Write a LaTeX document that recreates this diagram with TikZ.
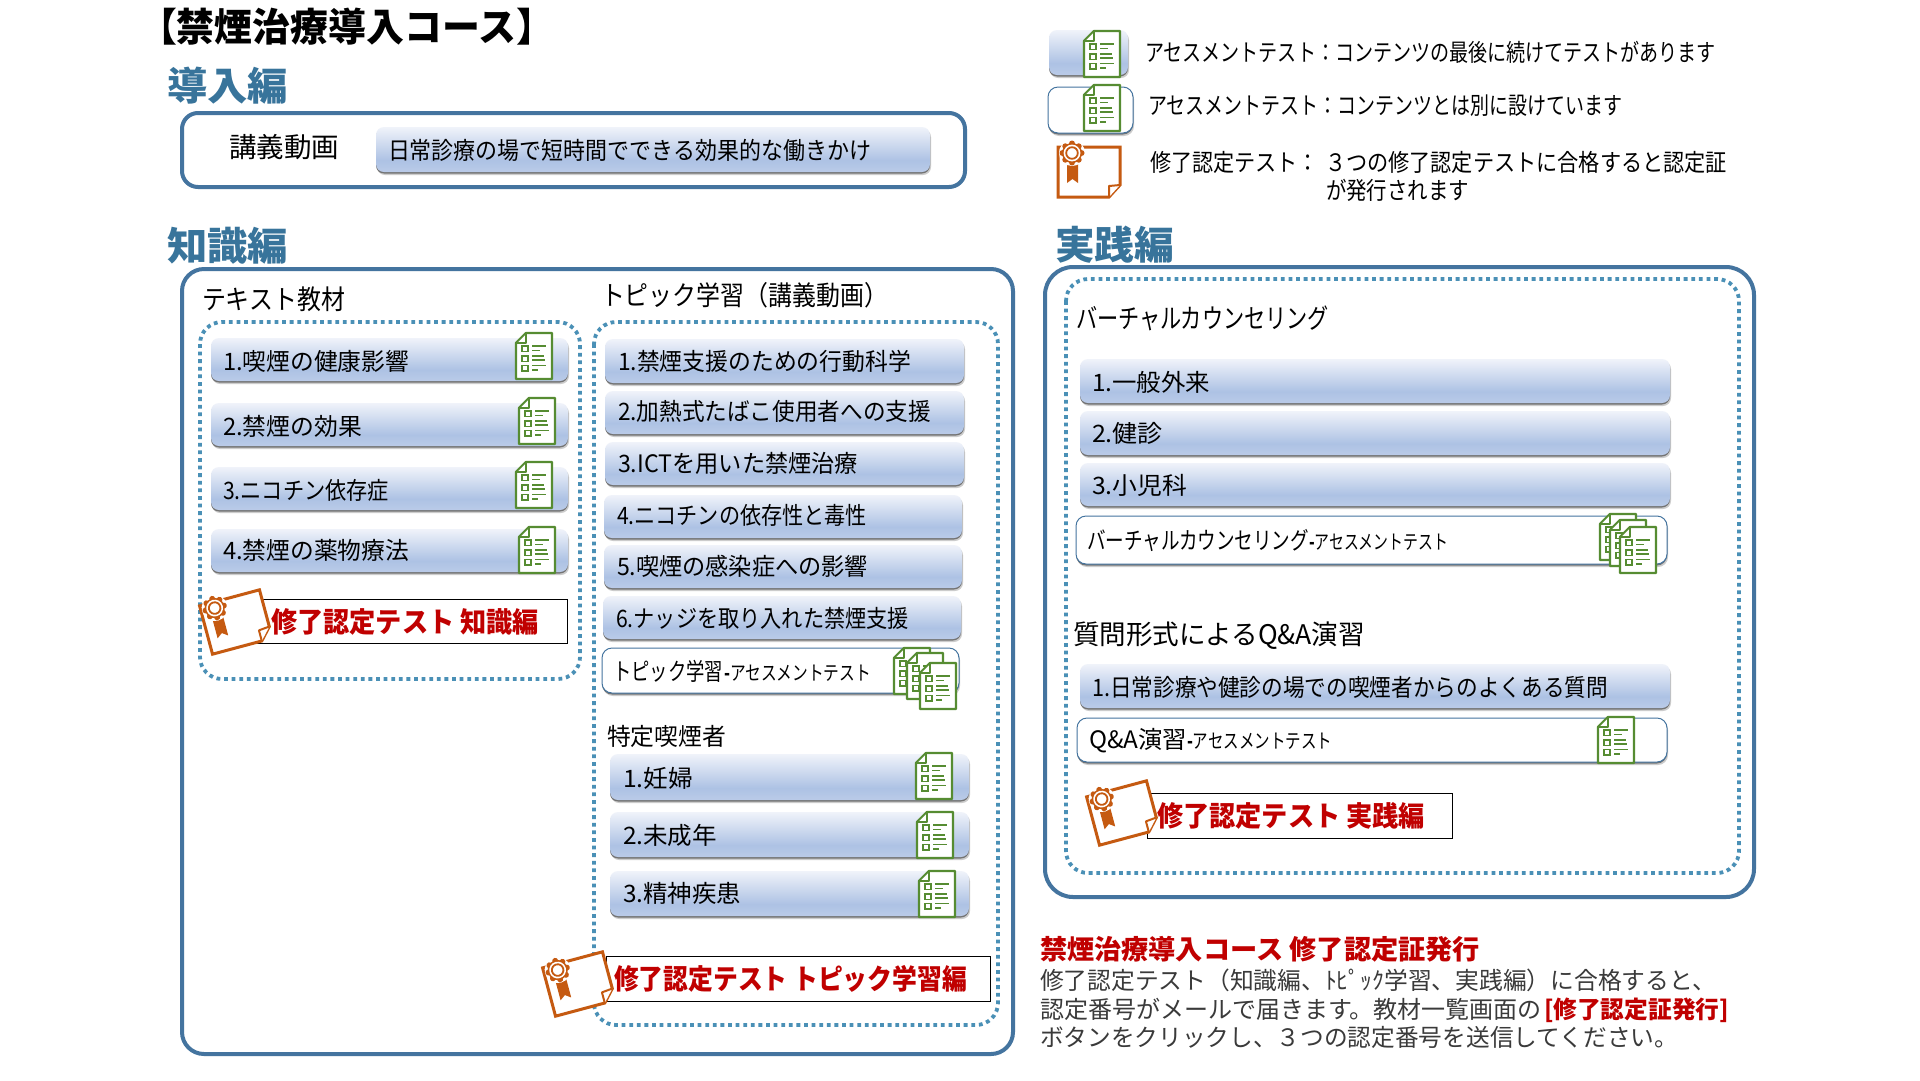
\documentclass[tikz,border=0pt]{standalone}
\usepackage{fontspec}
\usepackage{graphicx}
\setmainfont{Noto Sans CJK JP}
\definecolor{outerblue}{HTML}{44749F}
\definecolor{headblue}{HTML}{38749B}
\definecolor{dotblue}{HTML}{4A90B6}
\definecolor{docgreen}{HTML}{568C32}
\definecolor{awardor}{HTML}{C55A11}
\definecolor{redtxt}{HTML}{C00000}
\definecolor{bodygray}{HTML}{3A3A3A}
\definecolor{bartop}{HTML}{F0F3FA}
\definecolor{barmid}{HTML}{ADC2E4}
\definecolor{barbot}{HTML}{BACBE8}
\pgfdeclareverticalshading{barshade}{100bp}{color(0bp)=(barbot); color(25bp)=(barbot); color(38bp)=(barmid); color(75bp)=(bartop); color(100bp)=(bartop)}
\tikzset{
  outerbox/.style={draw=outerblue,line width=4pt,rounded corners=16pt},
  dotbox/.style={draw=dotblue,line width=3.8pt,dash pattern=on 3.8pt off 3.8pt,rounded corners=22pt},
  txt/.style={anchor=base west,inner sep=0pt,outer sep=0pt},
  rectlab/.style={draw=black,line width=0.8pt,fill=white},
  docline/.style={draw=docgreen,line width=1.8pt}
}
\newcounter{nn}
% x, y-centre, width, size, style, text
\newcommand\lab[6]{\stepcounter{nn}\pgfmathsetmacro\yb{#2+0.40*#4}%
  \node[txt,name=L\thenn] at (#1,\yb) {\resizebox{#3pt}{\height}{\fontsize{#4}{#4}\selectfont #5#6}};}
\newcommand\gbar[4]{% x1 y1 x2 y2
  \fill[black!20,rounded corners=8pt] (#1+1,#2+2) rectangle (#3+1,#4+3);
  \fill[black!55,rounded corners=8pt] (#1,#2+2) rectangle (#3,#4+1.5);
  \path[shading=barshade,rounded corners=8pt] (#1,#2) rectangle (#3,#4);}
\newcommand\wbox[4]{%
  \fill[black!20,rounded corners=10pt] (#1+1,#2+2) rectangle (#3+1,#4+3);
  \fill[black!55,rounded corners=10pt] (#1,#2+2) rectangle (#3,#4+1.5);
  \draw[outerblue,fill=white,line width=1pt,rounded corners=10pt] (#1,#2) rectangle (#3,#4);}
\newcommand\docicon[2]{\begin{scope}[shift={(#1,#2)}]
  \draw[docline,line width=2.4pt,fill=white,line join=round] (-18,-13)--(-8,-23)--(18,-23)--(18,23)--(-18,23)--cycle;
  \draw[docline,line width=1.6pt,fill=white,line join=round] (-18,-13)--(-8,-13)--(-8,-23)--cycle;
  \foreach \yy in {-10,0,9.5}{\draw[docline] (-12.3,\yy) rectangle (-6.3,\yy+5.5);}
  \foreach \yy/\xx in {-10/12,-5.5/6,0/10,4/11,9.5/12,14/4}{\draw[docline] (-2,\yy)--(\xx,\yy);}
\end{scope}}
\newcommand\awardicon[3]{\begin{scope}[shift={(#1,#2)},rotate=#3]
  \draw[awardor,line width=3pt,fill=white,line join=miter] (-31,-25)--(31,-25)--(31,13)--(20,25)--(-31,25)--cycle;
  \draw[awardor,line width=2pt,fill=white,line join=round] (31,13)--(20,14)--(20,25);
  \fill[awardor] (-22,-9)--(-11,-9)--(-11,11)--(-16.5,7)--(-22,11)--cycle;
  \begin{scope}[shift={(-17,-19)}]
    \fill[white] (0,0) circle[radius=13pt];
    \foreach \aa in {0,45,...,315}{\fill[awardor] (\aa:9.5pt) circle[radius=3pt];}
    \fill[awardor] (0,0) circle[radius=10pt];
    \fill[white] (0,0) circle[radius=8.4pt];
    \draw[awardor,line width=1.8pt] (0,0) circle[radius=5.8pt];
  \end{scope}
\end{scope}}
\begin{document}
\begin{tikzpicture}[x=1pt,y=-1pt]
\useasboundingbox[fill=white] (0,0) rectangle (1920,1080);
% headings
\lab{139}{26}{415}{39}{\bfseries}{【禁煙治療導入コース】}
\lab{167}{85}{121}{39}{\bfseries\color{headblue}}{導入編}
\lab{167}{245}{121}{39}{\bfseries\color{headblue}}{知識編}
\lab{1055}{244}{119}{39}{\bfseries\color{headblue}}{実践編}
% intro
\draw[outerbox] (182,113) rectangle (965,187);
\lab{229}{146}{110}{27.5}{}{講義動画}
\gbar{376}{127}{930}{172}
\lab{388}{150}{483}{24}{}{日常診療の場で短時間でできる効果的な働きかけ}
% knowledge
\draw[outerbox,rounded corners=22pt] (182,269) rectangle (1013,1054);
\draw[dotbox] (200,322) rectangle (580,679);
\draw[dotbox] (594,322) rectangle (998,1025);
\lab{202}{299}{143}{27}{}{テキスト教材}
\lab{601}{295}{287}{27}{}{トピック学習（講義動画）}
\gbar{211}{338}{568}{381}
\gbar{211}{403}{568}{446}
\gbar{211}{467}{568}{510}
\gbar{211}{529}{568}{572}
\lab{223}{361}{186}{24}{}{1.喫煙の健康影響}
\lab{223}{426}{139}{24}{}{2.禁煙の効果}
\lab{223}{490}{166}{24}{}{3.ニコチン依存症}
\lab{223}{550}{186}{24}{}{4.禁煙の薬物療法}
\docicon{534}{356}
\docicon{537}{421}
\docicon{534}{485}
\docicon{537}{550}
\draw[rectlab] (250,599) rectangle (567,643);
\awardicon{236}{622}{15}
\lab{271}{621}{268}{28}{\bfseries\color{redtxt}}{修了認定テスト 知識編}
% topics
\gbar{605}{339}{964}{383}
\gbar{605}{391}{964}{434}
\gbar{605}{442}{964}{485}
\gbar{604}{495}{962}{538}
\gbar{604}{545}{962}{588}
\gbar{603}{596}{961}{639}
\lab{618}{361}{293}{24}{}{1.禁煙支援のための行動科学}
\lab{618}{411}{313}{24}{}{2.加熱式たばこ使用者への支援}
\lab{618}{463}{240}{24}{}{3.ICTを用いた禁煙治療}
\lab{617}{515}{250}{24}{}{4.ニコチンの依存性と毒性}
\lab{617}{566}{251}{24}{}{5.喫煙の感染症への影響}
\lab{616}{618}{293}{24}{}{6.ナッジを取り入れた禁煙支援}
\wbox{602}{648}{959}{693}
\lab{613}{671}{110}{24}{}{トピック学習}
\lab{724}{672}{147}{20}{}{{\bfseries-}アセスメントテスト}
\docicon{912}{671}
\docicon{925}{676}
\docicon{938}{686}
\lab{607}{736}{119}{24}{}{特定喫煙者}
\gbar{610}{754}{969}{800}
\gbar{610}{812}{969}{857}
\gbar{610}{871}{969}{916}
\lab{623}{778}{70}{24}{}{1.妊婦}
\lab{623}{835}{94}{24}{}{2.未成年}
\lab{623}{893}{118}{24}{}{3.精神疾患}
\docicon{934}{776}
\docicon{935}{835}
\docicon{937}{894}
\draw[rectlab] (606,956) rectangle (990,1001);
\awardicon{579}{984}{15}
\lab{614}{978}{353}{28}{\bfseries\color{redtxt}}{修了認定テスト トピック学習編}
% practice
\draw[outerbox,rounded corners=28pt] (1045,267) rectangle (1754,897);
\draw[dotbox] (1066,279) rectangle (1739,873);
\lab{1076}{318}{253}{27}{}{バーチャルカウンセリング}
\gbar{1080}{359}{1670}{403}
\gbar{1080}{411}{1670}{455}
\gbar{1080}{463}{1670}{506}
\lab{1092}{382}{118}{24}{}{1.一般外来}
\lab{1092}{433}{71}{24}{}{2.健診}
\lab{1092}{485}{95}{24}{}{3.小児科}
\wbox{1076}{516}{1667}{564}
\lab{1087}{540}{222}{24}{}{バーチャルカウンセリング}
\lab{1309}{541}{139}{20}{}{{\bfseries-}アセスメントテスト}
\docicon{1618}{537}
\docicon{1628}{543}
\docicon{1638}{550}
\lab{1073}{634}{292}{27}{}{質問形式によるQ\&A演習}
\gbar{1080}{664}{1670}{708}
\lab{1092}{687}{516}{24}{}{1.日常診療や健診の場での喫煙者からのよくある質問}
\wbox{1077}{718}{1667}{762}
\lab{1089}{739}{98}{24}{}{Q\&A演習}
\lab{1187}{740}{145}{20}{}{{\bfseries-}アセスメントテスト}
\docicon{1616}{740}
\draw[rectlab] (1147,793) rectangle (1452,838);
\awardicon{1123}{813}{15}
\lab{1157}{815}{268}{28}{\bfseries\color{redtxt}}{修了認定テスト 実践編}
% legend
\gbar{1049}{30}{1128}{75}
\docicon{1102}{54}
\wbox{1048}{87}{1133}{133}
\docicon{1102}{108}
\awardicon{1089}{172}{0}
\lab{1145}{52}{571}{24}{}{アセスメントテスト：コンテンツの最後に続けてテストがあります}
\lab{1148}{105}{474}{24}{}{アセスメントテスト：コンテンツとは別に設けています}
\lab{1150}{162}{169}{24}{}{修了認定テスト：}
\lab{1325}{162}{402}{24}{}{３つの修了認定テストに合格すると認定証}
\lab{1326}{190}{143}{24}{}{が発行されます}
% bottom text
\lab{1040}{949}{440}{27}{\bfseries\color{redtxt}}{禁煙治療導入コース 修了認定証発行}
\lab{1040}{980}{676}{24}{\color{bodygray}}{修了認定テスト（知識編、ﾄﾋﾟｯｸ学習、実践編）に合格すると、}
\lab{1040}{1009}{502}{24}{\color{bodygray}}{認定番号がメールで届きます。教材一覧画面の}
\lab{1544}{1009}{185}{24}{\bfseries\color{redtxt}}{[修了認定証発行]}
\lab{1040}{1037}{638}{24}{\color{bodygray}}{ボタンをクリックし、３つの認定番号を送信してください。}
\end{tikzpicture}
\end{document}
